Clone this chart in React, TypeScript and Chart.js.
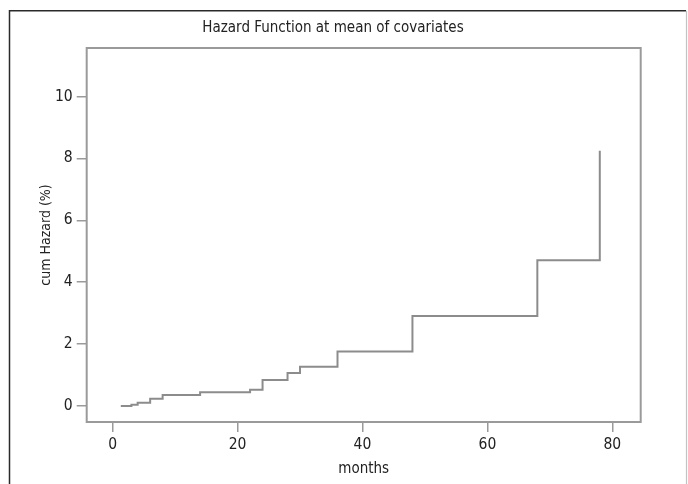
import React, { useEffect, useRef } from "react";
import { Chart, registerables } from "chart.js";

Chart.register(...registerables);

// ---- data ----
const months = [1.3, 3, 4, 6, 8, 14, 22, 24, 28, 30, 36, 48, 68, 78];
const cumHazard = [0, 0.04, 0.1, 0.23, 0.35, 0.44, 0.52, 0.84, 1.06, 1.27, 1.76, 2.91, 4.71, 8.25];
const xTicks = [0, 20, 40, 60, 80];
const yTicks = [0, 2, 4, 6, 8, 10];
const titleText = "Hazard Function at mean of covariates";
const xLabel = "months";
const yLabel = "cum Hazard (%)";

const FONT = "'Liberation Sans Narrow', 'DejaVu Sans Condensed', 'Arial Narrow', sans-serif";
const TEXT_COLOR = "#222222";
const AXIS_COLOR = "#9a9a9a";

const framePlugin = {
  id: "frameBox",
  beforeDraw(chart: any) {
    const ctx = chart.ctx;
    ctx.save();
    ctx.fillStyle = "#ffffff";
    ctx.fillRect(0, 0, chart.width, chart.height);
    ctx.strokeStyle = "#2a2a2a";
    ctx.lineWidth = 1.5;
    ctx.beginPath();
    ctx.moveTo(9.5, chart.height);
    ctx.lineTo(9.5, 10.75);
    ctx.lineTo(686, 10.75);
    ctx.stroke();
    ctx.strokeStyle = "#c4c4c4";
    ctx.lineWidth = 1.2;
    ctx.beginPath();
    ctx.moveTo(686.5, 10.75);
    ctx.lineTo(686.5, chart.height);
    ctx.stroke();
    ctx.restore();
  },
  beforeDatasetsDraw(chart: any) {
    const { ctx, chartArea } = chart;
    ctx.save();
    ctx.strokeStyle = AXIS_COLOR;
    ctx.lineWidth = 2;
    ctx.strokeRect(chartArea.left, chartArea.top, chartArea.right - chartArea.left, chartArea.bottom - chartArea.top);
    ctx.restore();
  },
};

export default function App() {
  const ref = useRef<HTMLCanvasElement | null>(null);

  useEffect(() => {
    if (!ref.current) return;
    const chart = new Chart(ref.current, {
      type: "line",
      data: {
        datasets: [
          {
            data: months.map((m, i) => ({ x: m, y: cumHazard[i] })),
            stepped: true,
            borderColor: "#8c8c8c",
            borderWidth: 2,
            pointRadius: 0,
            fill: false,
          },
        ],
      },
      options: {
        animation: false,
        responsive: false,
        devicePixelRatio: 1,
        layout: { padding: { left: 25.3, right: 47.3, top: 0, bottom: 0 } },
        plugins: {
          legend: { display: false },
          tooltip: { enabled: false },
          title: {
            display: true,
            text: titleText,
            color: TEXT_COLOR,
            font: { family: FONT, size: 15, weight: "normal", lineHeight: 1.2 },
            padding: { top: 19, bottom: 11 },
          },
        },
        scales: {
          x: {
            type: "linear",
            min: -4.16,
            max: 84.55,
            afterBuildTicks: (scale: any) => {
              scale.ticks = xTicks.map((v) => ({ value: v }));
            },
            afterFit: (scale: any) => {
              scale.height = 62;
            },
            grid: {
              display: true,
              drawOnChartArea: false,
              drawTicks: true,
              tickLength: 10,
              color: AXIS_COLOR,
              lineWidth: 1.5,
            },
            border: { display: false },
            ticks: {
              color: TEXT_COLOR,
              font: { family: FONT, size: 15.5 },
              padding: 4,
              maxRotation: 0,
              autoSkip: false,
            },
            title: {
              display: true,
              text: xLabel,
              color: TEXT_COLOR,
              font: { family: FONT, size: 15, lineHeight: 1.2 },
              padding: { top: 0, bottom: 6 },
            },
          },
          y: {
            type: "linear",
            min: -0.52,
            max: 11.57,
            afterBuildTicks: (scale: any) => {
              scale.ticks = yTicks.map((v) => ({ value: v }));
            },
            afterFit: (scale: any) => {
              scale.width = 61.4;
            },
            grid: {
              display: true,
              drawOnChartArea: false,
              drawTicks: true,
              tickLength: 10,
              color: AXIS_COLOR,
              lineWidth: 1.5,
            },
            border: { display: false },
            ticks: {
              color: TEXT_COLOR,
              font: { family: FONT, size: 15.5 },
              padding: 4,
              autoSkip: false,
            },
            title: {
              display: true,
              text: yLabel,
              color: TEXT_COLOR,
              font: { family: FONT, size: 14, lineHeight: 1.2 },
              padding: { top: 12.3, bottom: 0 },
            },
          },
        },
      },
      plugins: [framePlugin],
    } as any);
    return () => chart.destroy();
  }, []);

  return (
    <div style={{ position: "absolute", left: 0, top: 0, width: 688, height: 484, background: "#fff" }}>
      <canvas ref={ref} width={688} height={484} style={{ display: "block", width: 688, height: 484 }} />
    </div>
  );
}
